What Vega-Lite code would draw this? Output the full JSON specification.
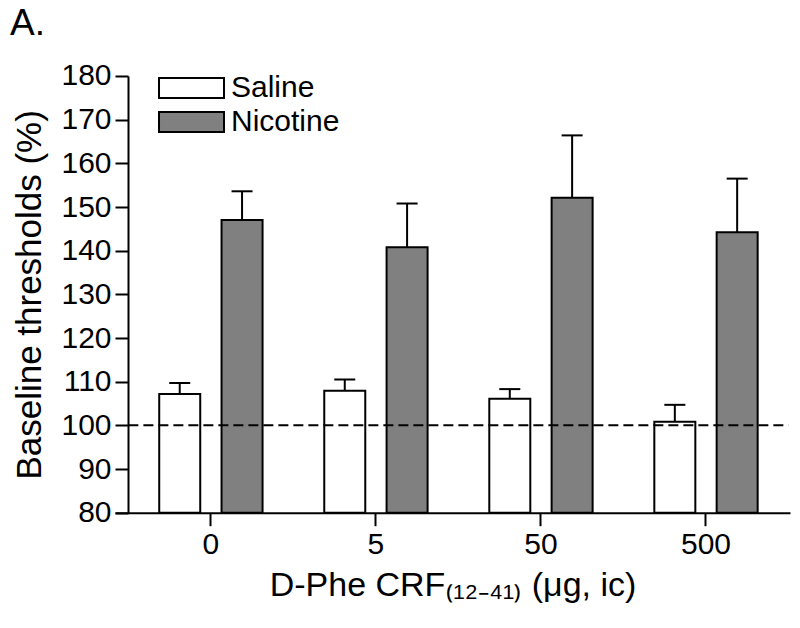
{
  "$schema": "https://vega.github.io/schema/vega-lite/v6.json",
  "width": 675,
  "height": 436.7,
  "autosize": {"type": "none"},
  "padding": {"left": 115, "top": 76, "right": 10, "bottom": 115},
  "config": {
    "font": "Liberation Sans",
    "view": {"stroke": null},
    "axis": {
      "domainColor": "black", "domainWidth": 2, "tickColor": "black", "tickWidth": 2, "tickSize": 13,
      "labelColor": "black", "labelFontSize": 30, "titleFontSize": 33, "titleFontWeight": "normal",
      "titleColor": "black", "grid": false
    }
  },
  "title": {"text": "A.", "anchor": "start", "frame": "group", "dx": -105, "dy": -4, "fontSize": 37, "fontWeight": "normal", "color": "black", "offset": 14},
  "data": {"values": [
    {"dose": "0", "group": "Saline", "value": 107.2, "upper": 109.7},
    {"dose": "0", "group": "Nicotine", "value": 147.0, "upper": 153.6},
    {"dose": "5", "group": "Saline", "value": 107.9, "upper": 110.5},
    {"dose": "5", "group": "Nicotine", "value": 140.8, "upper": 150.8},
    {"dose": "50", "group": "Saline", "value": 106.1, "upper": 108.3},
    {"dose": "50", "group": "Nicotine", "value": 152.1, "upper": 166.4},
    {"dose": "500", "group": "Saline", "value": 100.8, "upper": 104.7},
    {"dose": "500", "group": "Nicotine", "value": 144.2, "upper": 156.5}
  ]},
  "layer": [
    {
      "mark": {"type": "bar", "stroke": "black", "strokeWidth": 2},
      "encoding": {
        "x": {"field": "dose", "type": "nominal", "sort": ["0", "5", "50", "500"],
              "scale": {"paddingInner": 0, "paddingOuter": 0.045, "align": 0.9},
              "axis": {"title": "D-Phe CRF₍₁₂₋₄₁₎ (μg, ic)", "titleFontSize": 34, "labelAngle": 0, "labelPadding": 4, "titlePadding": 9}},
        "xOffset": {"field": "group", "type": "nominal", "sort": ["Saline", "Nicotine"],
                    "scale": {"paddingInner": 0.342, "paddingOuter": 0.495}},
        "y": {"field": "value", "type": "quantitative",
              "scale": {"domain": [80, 180], "nice": false, "zero": false},
              "axis": {"title": "Baseline thresholds (%)", "titleFontSize": 35, "values": [80, 90, 100, 110, 120, 130, 140, 150, 160, 170, 180], "offset": -13, "labelPadding": 4, "titlePadding": 13}},
        "y2": {"datum": 80},
        "fill": {"field": "group", "type": "nominal",
                 "scale": {"domain": ["Saline", "Nicotine"], "range": ["white", "#808080"]},
                 "legend": {"title": null, "orient": "none", "legendX": 39, "legendY": -3,
                            "symbolType": "M-1,-1H5.5V1H-1Z", "symbolSize": 400, "symbolStrokeColor": "black",
                            "symbolStrokeWidth": 2, "symbolOpacity": 1, "labelFontSize": 30, "labelColor": "black",
                            "labelOffset": 47, "rowPadding": 4}}
      }
    },
    {
      "mark": {"type": "rule", "strokeWidth": 2, "color": "black"},
      "encoding": {
        "x": {"field": "dose", "type": "nominal", "sort": ["0", "5", "50", "500"]},
        "xOffset": {"field": "group", "type": "nominal", "sort": ["Saline", "Nicotine"]},
        "y": {"field": "value", "type": "quantitative", "title": "Baseline thresholds (%)"},
        "y2": {"field": "upper"}
      }
    },
    {
      "mark": {"type": "tick", "size": 21, "thickness": 2, "color": "black", "opacity": 1},
      "encoding": {
        "x": {"field": "dose", "type": "nominal", "sort": ["0", "5", "50", "500"]},
        "xOffset": {"field": "group", "type": "nominal", "sort": ["Saline", "Nicotine"]},
        "y": {"field": "upper", "type": "quantitative", "title": "Baseline thresholds (%)"}
      }
    },
    {
      "data": {"values": [{"ref": 100}]},
      "mark": {"type": "rule", "strokeDash": [10, 5], "strokeWidth": 2, "color": "black"},
      "encoding": {
        "x": {"datum": "0", "type": "nominal", "bandPosition": 0},
        "x2": {"datum": "500", "bandPosition": 1},
        "y": {"field": "ref", "type": "quantitative", "title": "Baseline thresholds (%)"}
      }
    }
  ]
}
